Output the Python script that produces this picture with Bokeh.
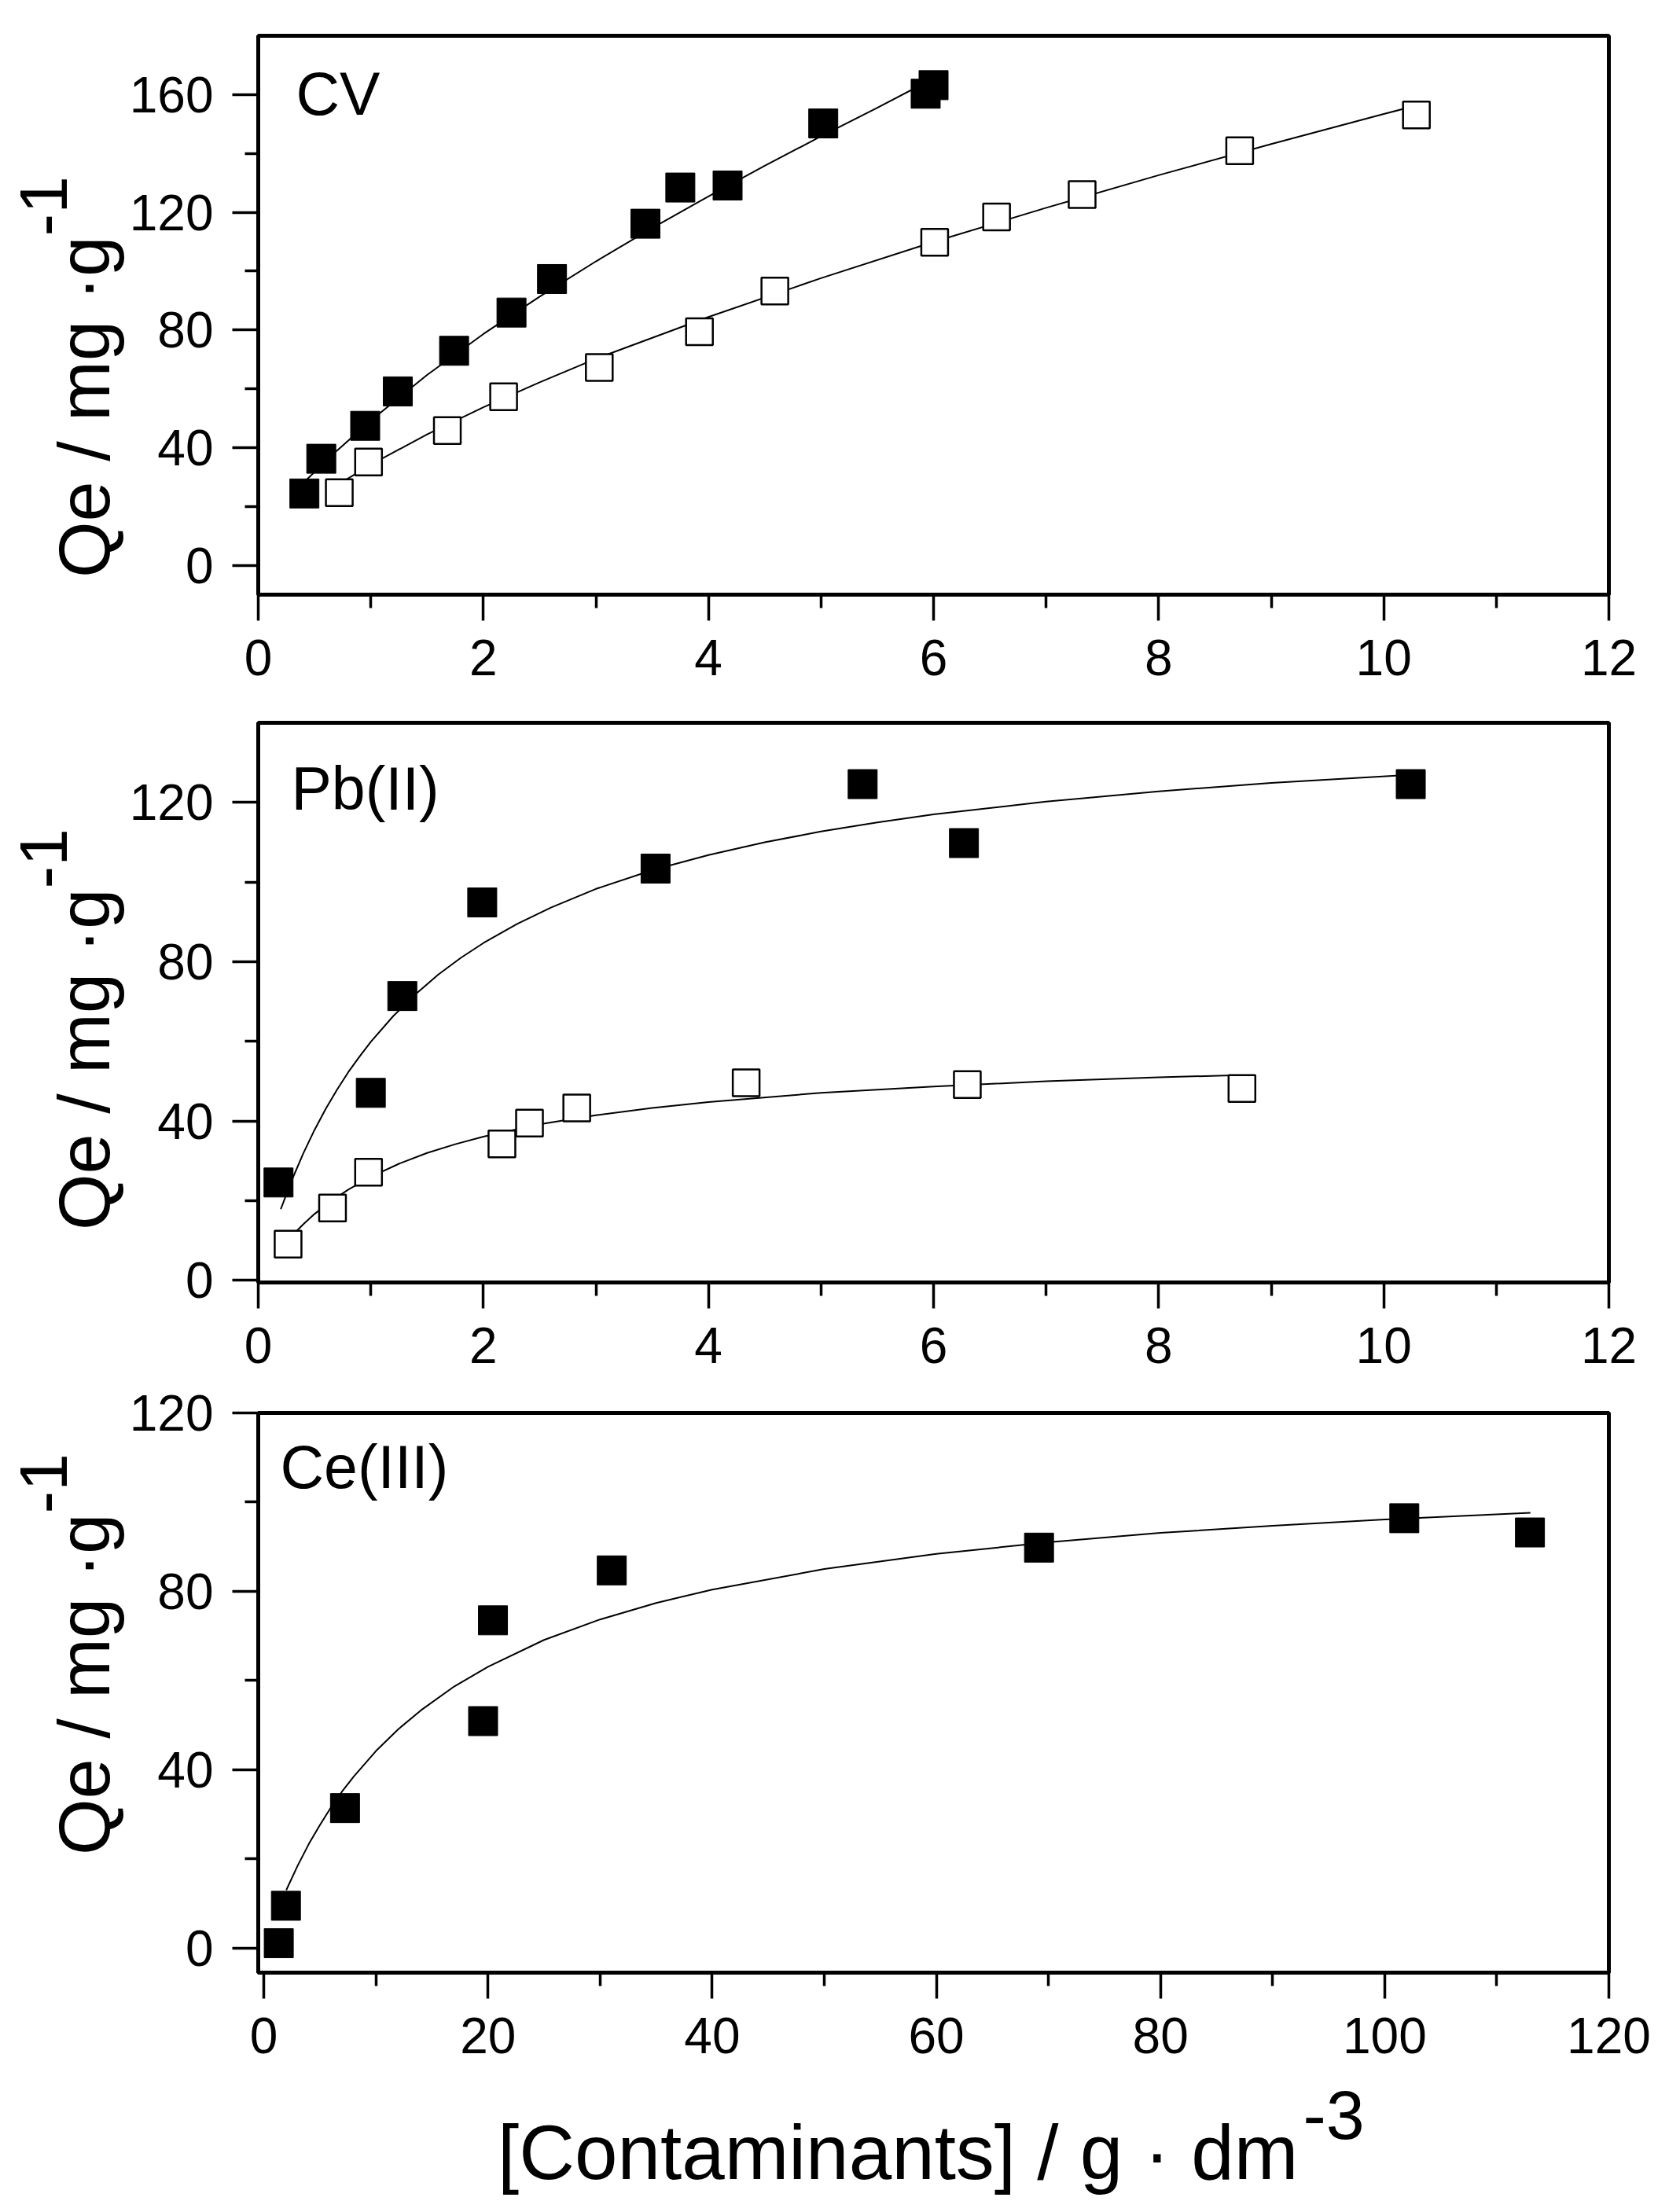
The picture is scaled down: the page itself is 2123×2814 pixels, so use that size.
import math
from bokeh.plotting import figure
from bokeh.layouts import column, row
from bokeh.models import FixedTicker, Label, Range1d
from bokeh.embed import file_html
from bokeh.resources import INLINE

# ---------------- data ----------------
cv_filled_x = [0.41, 0.56, 0.95, 1.24, 1.74, 2.25, 2.61, 3.44, 3.75, 4.17, 5.02, 5.93, 6.00]
cv_filled_y = [24.4, 36.2, 47.4, 59.1, 72.9, 85.9, 97.3, 116.1, 128.4, 129.1, 150.2, 160.3, 163.2]
cv_open_x = [0.72, 0.98, 1.68, 2.18, 3.03, 3.92, 4.59, 6.01, 6.56, 7.32, 8.72, 10.29]
cv_open_y = [24.7, 35.1, 45.8, 57.3, 67.2, 79.4, 93.2, 109.8, 118.4, 126.0, 140.9, 153.1]
cv_fit_filled_x = [0.40, 0.70, 1.0, 1.5, 2.0, 2.5, 3.0, 3.5, 4.0, 4.5, 5.0, 5.5, 6.0]
cv_fit_filled_y = [28.0, 39.0, 49.2, 64.7, 78.6, 91.3, 103.3, 114.6, 125.4, 135.8, 145.8, 155.5, 165.5]
cv_fit_open_x = [0.75, 1.0, 1.5, 2.0, 2.5, 3.0, 4.0, 5.0, 6.0, 7.0, 8.0, 9.0, 10.0, 10.4]
cv_fit_open_y = [28.4, 34.2, 44.5, 53.7, 62.2, 70.2, 84.4, 97.6, 109.9, 121.5, 132.6, 143.2, 153.4, 157.4]

pb_filled_x = [0.18, 1.00, 1.28, 1.99, 3.53, 5.37, 6.27, 10.24]
pb_filled_y = [24.6, 47.1, 71.4, 94.9, 103.4, 124.6, 109.8, 124.6]
pb_open_x = [0.265, 0.66, 0.98, 2.165, 2.41, 2.83, 4.335, 6.30, 8.74]
pb_open_y = [9.1, 18.2, 27.2, 34.3, 39.5, 43.3, 49.6, 49.2, 48.2]
pb_fit_filled_x = [0.2, 0.3, 0.4, 0.5, 0.6, 0.7, 0.8, 0.9, 1.0, 1.2, 1.4, 1.6, 1.8, 2.0,
                   2.3, 2.6, 3.0, 3.5, 4.0, 4.5, 5.0, 5.5, 6.0, 7.0, 8.0, 9.0, 10.2]
pb_fit_filled_y = [17.9, 25.3, 31.9, 37.8, 43.1, 47.9, 52.3, 56.2, 59.9, 66.4, 71.9, 76.8, 81.0, 84.7,
                   89.5, 93.6, 98.3, 103.0, 106.8, 110.0, 112.7, 115.0, 117.0, 120.2, 122.8, 124.9, 126.9]
pb_fit_open_x = [0.27, 0.4, 0.5, 0.65, 0.8, 1.0, 1.25, 1.5, 1.75, 2.0, 2.5, 3.0, 3.5, 4.0,
                 5.0, 6.0, 7.0, 8.0, 8.65]
pb_fit_open_y = [10.4, 14.1, 16.7, 20.0, 22.8, 26.0, 29.3, 32.0, 34.2, 36.1, 39.2, 41.5, 43.3, 44.8,
                 47.1, 48.7, 50.0, 51.0, 51.5]

ce_x = [1.33, 1.97, 7.24, 19.56, 20.44, 31.04, 69.16, 101.75, 112.96]
ce_y = [1.1, 9.5, 31.4, 50.9, 73.5, 84.7, 89.8, 96.4, 93.2]
ce_fit_x = [2, 3, 4, 5, 6, 7, 8, 10, 12, 14, 17, 20, 25, 30, 35, 40, 50, 60, 70, 80, 90, 100, 113]
ce_fit_y = [13.0, 18.4, 23.3, 27.6, 31.6, 35.2, 38.4, 44.2, 49.1, 53.3, 58.7, 63.1, 69.1, 73.7,
            77.4, 80.4, 85.0, 88.4, 91.0, 93.1, 94.7, 96.1, 97.6]

panel_names = ["CV", "Pb(II)", "Ce(III)"]
y_label_main = "Qe / mg ·g"
y_label_sup = "-1"
x_label_main = "[Contaminants] / g · dm"
x_label_sup = "-3"

x_major_small = [0, 2, 4, 6, 8, 10, 12]
x_minor_small = [1, 3, 5, 7, 9, 11]
x_major_ce = [0, 20, 40, 60, 80, 100, 120]
x_minor_ce = [10, 30, 50, 70, 90, 110]
y_major_cv = [0, 40, 80, 120, 160]
y_minor_cv = [20, 60, 100, 140]
y_major_pb = [0, 40, 80, 120]
y_minor_pb = [20, 60, 100]
y_major_ce = [0, 40, 80, 120]
y_minor_ce = [20, 60, 100]

# ---------------- layout constants (page pixels) ----------------
FONT = "Liberation Sans"
SHIFT_EM = 0.36       # observed offset of the text anchor from the baseline
XSTRIP_DX = -165      # observed horizontal offset of the x-title strip
LEFT_W = 160          # width of the strip holding the y titles
FRAME_L = 328
FRAME_W = 1718
BORDER_L = FRAME_L - LEFT_W
BORDER_R = 62
FIG_W = BORDER_L + FRAME_W + BORDER_R
TOTAL_H = 2804
XT_TOP = 2639         # top of the strip holding the x title


def make_fig(xr, yr, fh, top, bottom):
    p = figure(frame_width=FRAME_W, frame_height=fh,
               x_range=Range1d(*xr), y_range=Range1d(*yr),
               output_backend="svg", toolbar_location=None,
               min_border_left=BORDER_L, min_border_right=BORDER_R,
               min_border_top=top, min_border_bottom=bottom)
    p.grid.visible = False
    p.background_fill_color = "white"
    p.border_fill_color = "white"
    p.outline_line_color = "black"
    p.outline_line_width = 5
    for ax in (p.xaxis[0], p.yaxis[0]):
        ax.axis_line_width = 5
        ax.axis_line_color = "black"
        ax.major_tick_out = 33
        ax.major_tick_in = 0
        ax.minor_tick_out = 17
        ax.minor_tick_in = 0
        ax.major_tick_line_width = 3.5
        ax.minor_tick_line_width = 3.5
        ax.major_tick_line_color = "black"
        ax.minor_tick_line_color = "black"
        ax.major_label_text_font = FONT
        ax.major_label_text_font_size = "64px"
        ax.major_label_text_color = "black"
    p.xaxis[0].major_label_standoff = 24
    p.yaxis[0].major_label_standoff = 24
    return p


def blank_fig(w, h, xr, yr):
    p = figure(frame_width=w, frame_height=h, x_range=Range1d(*xr), y_range=Range1d(*yr),
               output_backend="svg", toolbar_location=None,
               x_axis_location=None, y_axis_location=None,
               min_border=0, min_border_left=0, min_border_right=0,
               min_border_top=0, min_border_bottom=0)
    p.grid.visible = False
    p.outline_line_color = None
    p.background_fill_color = "white"
    p.border_fill_color = "white"
    return p


def label(p, x, y, text, size, align="left", angle=0.0):
    p.add_layout(Label(x=x, y=y, text=text, text_font=FONT,
                       text_font_size=f"{size}px", text_color="black",
                       text_align=align, text_baseline="alphabetic",
                       angle=angle, angle_units="rad"))


def series(p, xs, ys, filled, fx, fy):
    p.line(fx, fy, line_color="black", line_width=2)
    if filled:
        p.scatter(xs, ys, marker="square", size=37, fill_color="black",
                  line_color="black", line_width=1)
    else:
        p.scatter(xs, ys, marker="square", size=34, fill_color="white",
                  line_color="black", line_width=2.5)


def frame_label(p, xr, yr, frame_top, fh, px, py, text, size=77):
    py = py - SHIFT_EM * size
    x = xr[0] + (px - FRAME_L) / FRAME_W * (xr[1] - xr[0])
    y = yr[1] - (py - frame_top) / fh * (yr[1] - yr[0])
    label(p, x, y, text, size)


# ---- panel 1: CV ----
xr1, yr1 = (0, 12), (-10, 180)
p1 = make_fig(xr1, yr1, 711, 45, 153)
p1.xaxis[0].ticker = FixedTicker(ticks=x_major_small, minor_ticks=x_minor_small)
p1.yaxis[0].ticker = FixedTicker(ticks=y_major_cv, minor_ticks=y_minor_cv)
series(p1, cv_filled_x, cv_filled_y, True, cv_fit_filled_x, cv_fit_filled_y)
series(p1, cv_open_x, cv_open_y, False, cv_fit_open_x, cv_fit_open_y)
frame_label(p1, xr1, yr1, 45, 711, 376, 146, panel_names[0])

# ---- panel 2: Pb(II) ----
xr2, yr2 = (0, 12), (-0.5, 140)
p2 = make_fig(xr2, yr2, 712, 10, 129)
p2.xaxis[0].ticker = FixedTicker(ticks=x_major_small, minor_ticks=x_minor_small)
p2.yaxis[0].ticker = FixedTicker(ticks=y_major_pb, minor_ticks=y_minor_pb)
series(p2, pb_filled_x, pb_filled_y, True, pb_fit_filled_x, pb_fit_filled_y)
series(p2, pb_open_x, pb_open_y, False, pb_fit_open_x, pb_fit_open_y)
frame_label(p2, xr2, yr2, 919, 712, 370, 1030, panel_names[1])

# ---- panel 3: Ce(III) ----
xr3, yr3 = (-0.5, 120), (-5.5, 120)
p3 = make_fig(xr3, yr3, 712, 37, 130)
p3.xaxis[0].ticker = FixedTicker(ticks=x_major_ce, minor_ticks=x_minor_ce)
p3.yaxis[0].ticker = FixedTicker(ticks=y_major_ce, minor_ticks=y_minor_ce)
series(p3, ce_x, ce_y, True, ce_fit_x, ce_fit_y)
frame_label(p3, xr3, yr3, 1797, 712, 356, 1893, panel_names[2])

# ---- strip with the y titles (page coordinates, y measured from the bottom) ----
ystrip = blank_fig(LEFT_W, TOTAL_H, (0, LEFT_W), (0, TOTAL_H))
MAIN_FS, SUP_FS = 92, 86
for base_x, junction_y, sup_x in [(140, 300, 86), (140, 1130, 86), (140, 1925, 86)]:
    label(ystrip, base_x - SHIFT_EM * MAIN_FS, TOTAL_H - junction_y, y_label_main, MAIN_FS,
          align="right", angle=math.pi / 2)
    label(ystrip, sup_x - SHIFT_EM * SUP_FS, TOTAL_H - junction_y, y_label_sup, SUP_FS,
          align="left", angle=math.pi / 2)

# ---- strip with the x title ----
xt_h = TOTAL_H - XT_TOP
XT_FS, XS_FS = 98, 88
xstrip = blank_fig(FIG_W, xt_h, (LEFT_W, LEFT_W + FIG_W), (0, xt_h))
label(xstrip, 1648 + XSTRIP_DX, TOTAL_H - (2773 - SHIFT_EM * XT_FS), x_label_main, XT_FS, align="right")
label(xstrip, 1654 + XSTRIP_DX, TOTAL_H - (2722 - SHIFT_EM * XS_FS), x_label_sup, XS_FS, align="left")

layout = row(ystrip, column(p1, p2, p3, xstrip, spacing=0), spacing=0)
open("out.html", "w").write(file_html(layout, INLINE))
